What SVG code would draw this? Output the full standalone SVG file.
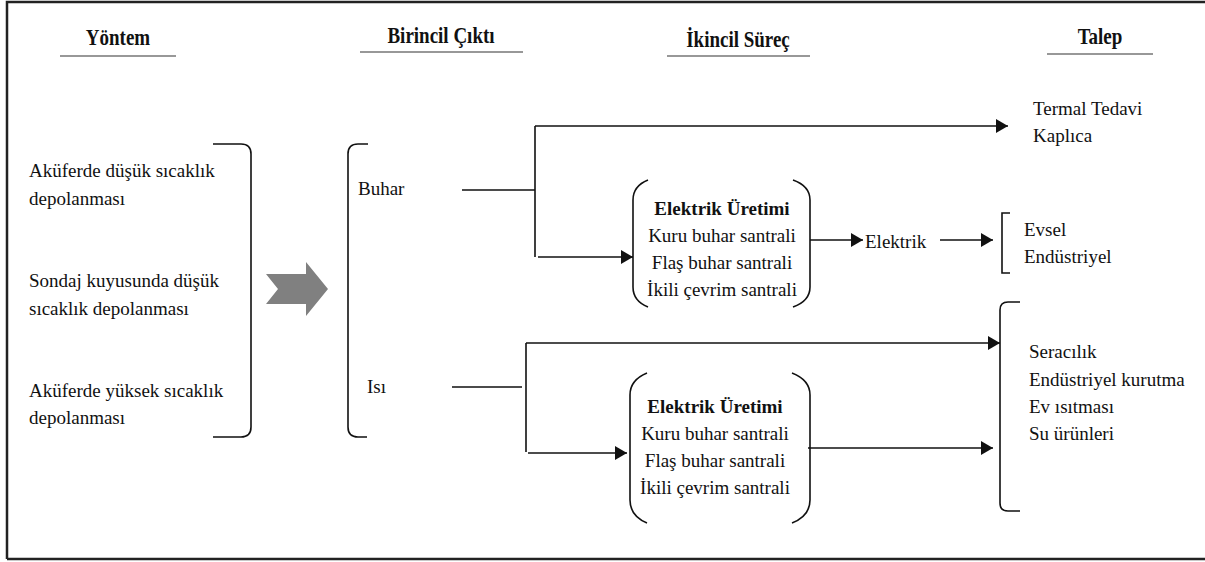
<svg xmlns="http://www.w3.org/2000/svg" width="1205" height="562" viewBox="0 0 1205 562">
<style>
text{font-family:'Liberation Serif','DejaVu Serif',serif;font-size:19px;fill:#111}
.h{font-weight:bold;text-anchor:middle}
.c{text-anchor:middle}
.b{font-weight:bold}
.ln{stroke:#111;stroke-width:1.6;fill:none}
.ul{stroke:#333;stroke-width:1.2}
.br{stroke:#111;stroke-width:1.6;fill:none}
</style>
<defs>
<marker id="ah" markerWidth="12" markerHeight="14" refX="12" refY="7" orient="auto" markerUnits="userSpaceOnUse"><path d="M0,0 L12,7 L0,14 z" fill="#111"/></marker>
</defs>
<rect width="1205" height="562" fill="#fff"/>
<path d="M7,559 V2 H1205 M7,559 H1205" stroke="#222" stroke-width="2.5" fill="none"/>

<g id="headers">
<text class="h" transform="translate(118,45) scale(1,1.25)">Yöntem</text>
<line class="ul" x1="60" y1="56" x2="176" y2="56"/>
<text class="h" transform="translate(441,43) scale(1,1.25)">Birincil Çıktı</text>
<line class="ul" x1="360" y1="52" x2="523" y2="52"/>
<text class="h" transform="translate(738,47) scale(1,1.25)">İkincil Süreç</text>
<line class="ul" x1="667" y1="56" x2="810" y2="56"/>
<text class="h" transform="translate(1100,44) scale(1,1.25)">Talep</text>
<line class="ul" x1="1047" y1="54" x2="1153" y2="54"/>
</g>

<g id="yontem">
<text x="29" y="177">Aküferde düşük sıcaklık</text>
<text x="29" y="205">depolanması</text>
<text x="29" y="287">Sondaj kuyusunda düşük</text>
<text x="29" y="315">sıcaklık depolanması</text>
<text x="29" y="397">Aküferde yüksek sıcaklık</text>
<text x="29" y="424">depolanması</text>
<path class="br" d="M213,144 H241 Q251,144 251,154 V427 Q251,437 241,437 H213"/>
</g>

<g id="big-arrow">
<polygon points="266,274 306,274 306,262 328,289 306,316 306,304 266,304 278,289" fill="#808080"/>
</g>

<g id="birincil">
<path class="br" d="M368,144 H358 Q348,144 348,154 V427 Q348,437 358,437 H367"/>
<text x="358" y="195">Buhar</text>
<text x="367" y="393">Isı</text>
</g>

<g id="elektrik-uretimi-1">
<path class="br" d="M648,180 Q633,186 633,200 V287 Q633,301 648,307"/>
<path class="br" d="M793,180 Q810,186 810,200 V287 Q810,301 793,307"/>
<text class="c b" x="722" y="215">Elektrik Üretimi</text>
<text class="c" x="722" y="242">Kuru buhar santrali</text>
<text class="c" x="722" y="269">Flaş buhar santrali</text>
<text class="c" x="722" y="296">İkili çevrim santrali</text>
</g>

<g id="elektrik-uretimi-2">
<path class="br" d="M647,373 Q630,380 630,395 V500 Q630,516 647,523"/>
<path class="br" d="M792,373 Q810,380 810,395 V500 Q810,516 792,523"/>
<text class="c b" x="715" y="413">Elektrik Üretimi</text>
<text class="c" x="715" y="440">Kuru buhar santrali</text>
<text class="c" x="715" y="467">Flaş buhar santrali</text>
<text class="c" x="715" y="494">İkili çevrim santrali</text>
</g>

<g id="elektrik">
<text x="865" y="248">Elektrik</text>
</g>

<g id="talep-termal">
<text x="1033" y="115">Termal Tedavi</text>
<text x="1033" y="142">Kaplıca</text>
</g>

<g id="talep-elektrik">
<path class="br" d="M1010,213 H1002 V273 H1010"/>
<text x="1024" y="236">Evsel</text>
<text x="1024" y="263">Endüstriyel</text>
</g>

<g id="talep-isi">
<path class="br" d="M1020,302 H1008 Q1000,302 1000,310 V503 Q1000,511 1008,511 H1020"/>
<text x="1029" y="358">Seracılık</text>
<text x="1029" y="386">Endüstriyel kurutma</text>
<text x="1029" y="413">Ev ısıtması</text>
<text x="1029" y="440">Su ürünleri</text>
</g>

<g id="connectors">
<path class="ln" d="M462,190 H535 M535,126 V257"/>
<path class="ln" d="M535,126 H1008" marker-end="url(#ah)"/>
<path class="ln" d="M538,257 H633" marker-end="url(#ah)"/>
<path class="ln" d="M810,240 H863" marker-end="url(#ah)"/>
<path class="ln" d="M940,240 H993" marker-end="url(#ah)"/>
<path class="ln" d="M452,387 H522 M526,343 V452"/>
<path class="ln" d="M526,343 H1000" marker-end="url(#ah)"/>
<path class="ln" d="M528,453 H627" marker-end="url(#ah)"/>
<path class="ln" d="M808,448 H993" marker-end="url(#ah)"/>
</g>
</svg>
